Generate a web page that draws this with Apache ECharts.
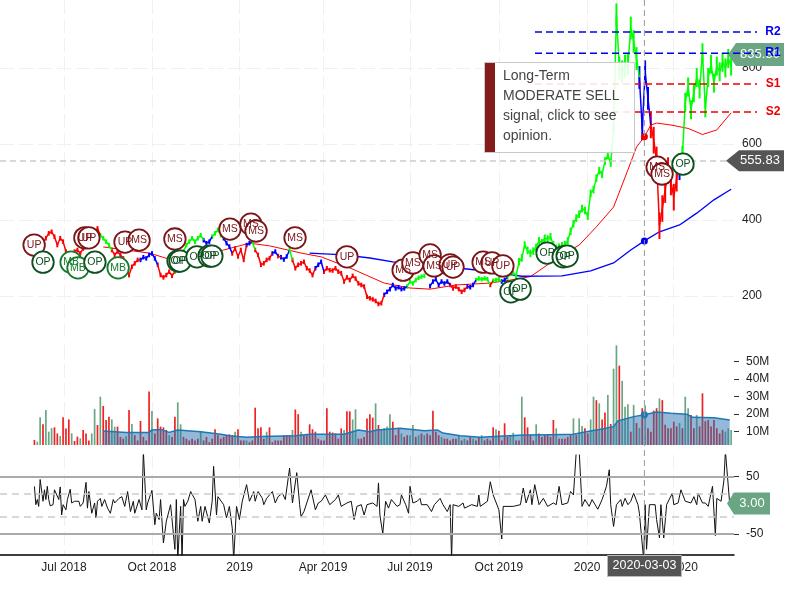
<!DOCTYPE html>
<html><head><meta charset="utf-8">
<style>html,body{margin:0;padding:0;background:#fff}#c{width:800px;height:600px}</style>
<script src="https://cdn.jsdelivr.net/npm/echarts@6/dist/echarts.min.js"></script>
</head><body><div id="c"></div>
<script>
const tickSessions=[44.6,106,167.2,225.3,286,348,409.5,469.8];
const tickLabels=['Jul 2018','Oct 2018','2019','Apr 2019','Jul 2019','Oct 2019','2020','Apr 2020'];
const firstSession=24, stepSessions=2;
const price=[
328,335,338,340,352,365,369,356,
334,352,343,317,312,308,317,321,312,325,
339,347,352,365,378,360,352,343,334,321,
308,317,308,299,273,255,277,286,295,295,
302,299,308,312,299,282,255,249,255,264,
253,264,277,299,317,334,343,352,343,352,
360,347,339,343,356,365,374,360,352,339,
330,312,325,304,321,295,334,339,343,321,
308,282,286,295,299,312,317,305,302,296,
304,321,295,273,282,286,290,273,267,255,
273,282,290,264,273,268,267,273,264,260,
238,249,242,253,246,233,229,225,198,194,
191,187,179,181,203,211,218,229,220,223,
218,220,225,238,233,242,248,251,253,null,
226,238,244,229,238,233,238,229,220,225,
218,211,216,225,223,229,242,246,244,246,
244,229,240,242,244,238,242,249,258,261,
253,290,300,334,320,312,318,328,345,340,
352,350,356,335,325,328,332,335,345,370,
390,405,415,430,425,410,470,480,510,530,
520,555,570,550,640,940,800,790,805,810,
905,870,825,775,640,790,720,650,610,558,
385,430,480,530,500,460,510,540,570,710,
750,690,735,775,745,840,695,775,810,760,
805,790,815,800,825,805];
// half of the day's high-low span: [first list index, last list index, span]
const priceSwing=[[0,168,6],[169,202,10],[203,214,30],[215,225,35],[226,243,25]];
// regime: [index of first point in price list, last index, kind]
const regimes=[[0,22,'r'],[23,26,'g'],[27,36,'r'],[37,42,'b'],[43,48,'r'],[49,58,'g'],[59,61,'b'],[62,65,'g'],[66,68,'b'],[69,73,'r'],[74,75,'b'],[76,76,'g'],[77,82,'r'],[83,84,'b'],[85,85,'r'],[86,88,'b'],[89,89,'g'],[90,97,'r'],[98,100,'b'],[101,121,'r'],[122,129,'b'],[130,136,'g'],[138,144,'b'],[145,150,'r'],[151,153,'b'],[154,158,'g'],[159,159,'r'],[160,162,'g'],[163,164,'b'],[165,210,'g'],[211,214,'b'],[215,224,'r'],[225,225,'b'],[226,243,'g']];
const regimeColors={r:'#ff0000',g:'#00ff00',b:'#0000ff'};
const maFast=[[72,329],[104,313],[118,297],[130,300],[156,321],[174,339],[188,332],[210,313],[224,303],[244,274],[268,234],[286,221],[300,218],[318,229],[342,234],[356,242],[370,251],[390,303],[404,334],[416,382],[428,434],[438,532],[444,592],[449.5,619],[454,650],[458,655],[468,650],[480,641],[490,625],[500,637],[510,682]];
const maSlow=[[216,313],[240,308],[258,300],[274,290],[292,280],[326,271],[346,262],[364,252],[392,253],[412,266],[428,287],[440,321],[449.5,345],[460,369],[474,387],[486,418],[498,453],[510,481]];
const volumeSigned=[
5.3,-4.3,-18.2,14.2,-22.4,-10,-12,12.5,
9,-7.5,18.2,11.8,17,-9.1,4.7,7.2,-6.2,11,
9,5,-9,-23,13.8,-30,24.7,16.7,18.6,-17,
-12.9,12.9,7,6,-7.5,22.4,-14.4,8,5,16.1,
7,5,32.9,-21.8,9,17.6,12.9,12.5,11,-8,
7,18.6,-26.8,-14.2,7,6,5,6,5,6,
-10,5,7,4,6,11.4,8,6,7,8,
8.5,8,-10,11.4,5,5,-5,4,5,23.7,
12,12.5,6,-10,12.5,4,5,5,5,8,
8,8,-11,22.7,20,-10,8,8,14.2,11.4,
10,6,5,5,23.4,10,9.5,9,6,11.9,
-11,21.6,21.6,-17,-22.8,6,6,7,17.6,20,
18,-26.2,13.8,-11.5,-12,-13,-20,15.7,8,12,
-9,7,8,-8,-13.8,7,-8,9,-8,9,
8,22,10,8,-7,6,6,5,6,6,
-8,5,-6,5,7,-6,5,7,-8,5,
6,5,12.5,-11.4,10.5,5,14.8,7,-8,-9.4,
5,5,-30,18.2,12.5,8,5,-14.2,9,7,
8,8,7,16.7,-11.9,6,6,6,7,8,
-17.6,8,-17.6,-13.3,12,9,-17,-30,28,-26.2,
17,20.9,-31,14.4,-46,-59.3,47.7,-39,-24.3,-25.6,
10,-25.3,15,-12,23.4,-24.9,12,10,22,23.4,
-29,28,14,12,12,15.7,13,-15,12,-30,
-23.4,19.5,12,-19.5,13,31.9,16,16.7,13,16.7,
12,9,11,-10,-11.9,-11];
const volumeAvg=[[72,10.4],[88,9.6],[104,9.6],[106,11],[112,11.3],[118,9.6],[124,11],[140,10],[154,8.5],[160,7.7],[172,6.8],[182,7.2],[206,7.7],[216,8.5],[240,8.5],[246,10],[250,11],[258,10],[263,11],[279,11.9],[296,10.6],[305,11],[309,9.2],[321,7.7],[335,6.8],[365,8.1],[384,8.3],[400,8.5],[409,10],[418,11.3],[428,12.9],[431,16.1],[442,18.6],[449.5,19.7],[458,21.2],[468,20.5],[479,20],[483,18.2],[498,18],[509,16.7]];
const cci=[[24,33],[25,1],[26,10],[27,-2],[28,45],[30,7],[31,27],[32,10],[33,33],[34,10],[35,-1],[37,1],[38,27],[41,10],[42,32],[43,-17],[44,1],[46,-8],[47,10],[49,28],[50,4],[52,7],[55,7],[56,-2],[58,4],[60,40],[61,-5],[62,24],[64,-14],[66,4],[67,-22],[68,7],[70,12],[71,-2],[73,10],[75,-5],[77,-14],[79,10],[80,4],[83,12],[85,15],[87,-2],[89,24],[91,-11],[93,7],[94,-14],[97,10],[99,-8],[100,95],[102,-8],[103,4],[106,26],[108,-34],[109,-14],[111,-25],[112,10],[114,-66],[116,-28],[117,-25],[119,1],[122,-77],[123,10],[124,-95],[126,-2],[127,-95],[128,10],[129,-2],[131,7],[133,24],[136,10],[138,-28],[140,-2],[141,-28],[143,-2],[146,-31],[148,7],[149,68],[151,-17],[152,15],[156,1],[158,-22],[160,-2],[162,-40],[163,-95],[164,-95],[165,-2],[166,-2],[167,-25],[169,7],[172,36],[174,7],[177,24],[178,7],[180,24],[183,12],[184,1],[186,12],[190,24],[192,4],[194,15],[197,21],[199,10],[202,65],[204,4],[207,57],[209,1],[210,-20],[212,-11],[214,4],[217,27],[220,-8],[222,4],[224,7],[227,18],[230,1],[234,10],[236,18],[238,-2],[242,4],[245,7],[247,-25],[249,-2],[252,1],[254,-17],[256,1],[260,4],[263,-2],[264,39],[265,-17],[267,-50],[269,7],[271,-5],[273,10],[277,-2],[279,1],[280,18],[283,1],[285,-14],[286,33],[288,4],[291,7],[293,12],[294,1],[298,1],[301,-11],[303,1],[307,12],[309,1],[312,-11],[314,1],[315,-95],[316,1],[320,-2],[323,4],[324,-5],[329,1],[333,-2],[334,18],[335,-2],[340,7],[342,41],[344,18],[348,-8],[350,-59],[351,-2],[358,-2],[363,1],[365,30],[367,4],[370,27],[371,1],[373,36],[376,1],[379,12],[382,-2],[386,4],[388,1],[390,33],[392,1],[396,4],[398,24],[400,18],[402,95],[404,95],[406,-2],[408,10],[411,-2],[413,10],[417,-7],[420,10],[423,33],[425,62],[426,1],[428,-37],[430,1],[433,10],[434,-2],[436,12],[438,1],[440,7],[442,21],[445,1],[446,-14],[449,-95],[450,1],[451,-77],[453,1],[457,1],[458,-25],[460,-57],[461,1],[463,-57],[465,1],[469,21],[470,1],[473,4],[475,27],[478,7],[482,4],[484,15],[486,1],[487,21],[490,4],[492,4],[494,-2],[497,33],[499,-53],[500,12],[503,7],[505,44],[506,95],[507,95],[509,3]];
const signals=[[23.8,334,'UP'],[30,289,'OP'],[49.6,289,'MB'],[54.4,274,'MB'],[59.2,353,'UP'],[62,353,'UP'],[66.2,289,'OP'],[87.2,342,'UP'],[97,347,'MS'],[82.4,274,'MB'],[122,350,'MS'],[124.2,292,'OP'],[125.6,292,'OP'],[137.4,303,'OP'],[145.8,305,'OP'],[147.8,305,'OP'],[160.4,376,'MS'],[175,389,'MS'],[178.6,371,'MS'],[205.8,353,'MS'],[242,303,'UP'],[281.2,268,'MS'],[288,287,'MS'],[300,308,'MS'],[302.8,279,'MS'],[314,282,'UP'],[316,276,'UP'],[337,289,'MS'],[343.2,287,'UP'],[350.8,279,'UP'],[356.4,211,'OP'],[362.8,218,'OP'],[381.6,313,'OP'],[392.8,303,'OP'],[395.6,305,'OP'],[458.4,539,'MS'],[461.8,521,'MS'],[476.4,547,'OP']];
const signalColors={UP:'#7b1416',MS:'#7b1416',OP:'#0d4f1e',MB:'#157a2c'};
const pivotNames=['R2','R1','S1','S2'];
const pivotLevels=[895,839,758,684];
const lastClose=555.83, lastBreak=835.8, lastCci=3.00, crossSession=449.5, crossDate='2020-03-03';
const crossFast=619, crossSlow=345, crossVolume=19.7;
const priceTicks=[200,400,600,800], volumeTicks=[10,20,30,40,50], cciTicks=[50,-50];
const cciSolid=[50,-50], cciDashed=[20,-20];
const noteLines=['Long-Term','MODERATE SELL','signal, click to see','opinion.'];

const FONT='"Liberation Sans",Arial,sans-serif';
const vSplit={show:true,lineStyle:{color:'#f0f0f0',width:1,type:[14,5]}};
function xAx(i,withLabels){return {type:'value',gridIndex:i,min:0,max:512,position:'bottom',
  axisLine:{show:withLabels,onZero:false,lineStyle:{color:'#000',width:1.5}},
  axisTick:{show:false,customValues:tickSessions},
  axisLabel:{show:withLabels,customValues:tickSessions,hideOverlap:false,margin:6,padding:[1,0,0,0],fontSize:12,color:'#222',fontFamily:FONT,
    formatter:v=>tickLabels[tickSessions.indexOf(v)]||''},
  splitLine:vSplit};}
const sessions=price.map((_,i)=>firstSession+i*stepSessions);
function swingAt(i){const b=priceSwing.find(s=>i>=s[0]&&i<=s[1]);return b?b[2]:0;}
const series=[];
regimes.forEach(([a,b,k])=>{
  const d=[], hl=[];
  for(let i=a;i<=b+1&&i<price.length;i++){ if(price[i]!=null) d.push([sessions[i],price[i]]); }
  for(let i=a;i<=b;i++){ if(price[i]!=null) hl.push([sessions[i],price[i]-swingAt(i),price[i]+swingAt(i)]); }
  series.push({type:'line',xAxisIndex:0,yAxisIndex:0,data:d,symbol:'none',z:3,lineStyle:{color:regimeColors[k],width:1.5},silent:true});
  series.push({type:'custom',xAxisIndex:0,yAxisIndex:0,data:hl,z:3,silent:true,clip:true,
    encode:{x:0,y:[1,2]},
    renderItem:(p,api)=>{const a1=api.coord([api.value(0),api.value(1)]),a2=api.coord([api.value(0),api.value(2)]);
      return {type:'line',shape:{x1:a1[0],y1:a1[1],x2:a2[0],y2:a2[1]},style:{stroke:regimeColors[k],lineWidth:2}};}});
});
series.push({type:'line',xAxisIndex:0,yAxisIndex:0,data:maFast,symbol:'none',z:2,lineStyle:{color:'#ff0000',width:1}});
series.push({type:'line',xAxisIndex:0,yAxisIndex:0,data:maSlow,symbol:'none',z:2,lineStyle:{color:'#0000ff',width:1.3}});
series.push({type:'scatter',xAxisIndex:0,yAxisIndex:0,symbolSize:7,z:4,data:[{value:[crossSession,crossFast],itemStyle:{color:'#ee0000',opacity:1}},{value:[crossSession,crossSlow],itemStyle:{color:'#0000ee',opacity:1}}]});
series.push({type:'line',xAxisIndex:0,yAxisIndex:0,data:[],symbol:'none',
  markLine:{silent:true,symbol:'none',label:{show:false},lineStyle:{color:'#cccccc',width:1.5,type:[6,4]},data:[{yAxis:lastClose}]}});
series.push({type:'scatter',xAxisIndex:0,yAxisIndex:0,z:5,symbol:'circle',symbolSize:21.5,silent:true,
  data:signals.map(s=>({value:[s[0],s[1]],name:s[2],
    itemStyle:{color:'#fff',borderColor:signalColors[s[2]],borderWidth:1.8,opacity:1},
    label:{show:true,position:'inside',formatter:s[2],fontSize:10.5,color:signalColors[s[2]],fontFamily:FONT}}))});
series.push({type:'bar',xAxisIndex:1,yAxisIndex:1,barWidth:1.7,barGap:'-100%',z:2,itemStyle:{color:'#ee2222'},
  data:volumeSigned.map((v,i)=>[sessions[i],v>0?v:null])});
series.push({type:'bar',xAxisIndex:1,yAxisIndex:1,barWidth:1.7,barGap:'-100%',z:2,itemStyle:{color:'#6aa584'},
  data:volumeSigned.map((v,i)=>[sessions[i],v<0?-v:null])});
series.push({type:'line',xAxisIndex:1,yAxisIndex:1,data:volumeAvg,symbol:'none',z:3,
  lineStyle:{color:'#1f77b4',width:1.5},areaStyle:{color:'#2a72b0',opacity:.5,origin:'start'}});
series.push({type:'scatter',xAxisIndex:1,yAxisIndex:1,symbolSize:7,z:4,itemStyle:{color:'#1f77b4',opacity:1},data:[[crossSession,crossVolume]]});
series.push({type:'line',xAxisIndex:2,yAxisIndex:2,data:cci,symbol:'none',z:3,lineStyle:{color:'#111',width:1},
  markLine:{silent:true,symbol:'none',label:{show:false},animation:false,
    data:cciSolid.map(v=>({yAxis:v,lineStyle:{color:'#aaaaaa',width:2,type:'solid'}})).concat(cciDashed.map(v=>({yAxis:v,lineStyle:{color:'#cccccc',width:1.5,type:[7,5]}})))}});

const chart=echarts.init(document.getElementById('c'),null,{renderer:'canvas'});
const yLabel={margin:8,padding:[5,0,0,0],fontSize:12,color:'#222',fontFamily:FONT};
chart.setOption({
  animation:false,
  textStyle:{fontFamily:FONT},
  grid:[{left:0,width:734,top:0,height:340},{left:0,width:734,top:345,height:100},{left:0,width:734,top:455,height:100}],
  xAxis:[xAx(0,false),xAx(1,false),xAx(2,true)],
  yAxis:[
   {type:'value',gridIndex:0,position:'right',min:84.2,max:978.9,axisLine:{show:false,onZero:false},
    axisTick:{show:false,customValues:priceTicks},
    axisLabel:Object.assign({customValues:priceTicks},yLabel),
    splitLine:{show:true,lineStyle:{color:'#f0f0f0',width:1,type:[14,5]}}},
   {type:'value',gridIndex:1,position:'right',min:2.4,max:59.5,axisLine:{show:false,onZero:false},
    axisTick:{show:true,length:5,customValues:volumeTicks,lineStyle:{color:'#333'}},
    axisLabel:Object.assign({customValues:volumeTicks,formatter:v=>v+'M'},yLabel,{margin:12}),
    splitLine:{show:false}},
   {type:'value',gridIndex:2,position:'right',min:-86.9,max:87.8,axisLine:{show:false,onZero:false},
    axisTick:{show:true,length:5,customValues:cciTicks,lineStyle:{color:'#333'}},
    axisLabel:Object.assign({customValues:cciTicks},yLabel,{margin:12}),
    splitLine:{show:false}}
  ],
  series
});

const yP=v=>chart.convertToPixel({yAxisIndex:0},v);
const yC=v=>chart.convertToPixel({yAxisIndex:2},v);
const crossX=chart.convertToPixel({xAxisIndex:0},crossSession);
const G=[];
function tag(y,tip,left,right,h,color,txt,tx){
  const h2=h/2;
  G.push({type:'polygon',z:50,shape:{points:[[tip,y],[left,y-h2],[right,y-h2],[right,y+h2],[left,y+h2]]},style:{fill:color}});
  G.push({type:'text',z:51,x:tx,y:y,style:{text:txt,fill:'#fff',font:'13px '+FONT,align:'center',verticalAlign:'middle'}});
}
G.push({type:'line',z:40,shape:{x1:crossX,y1:0,x2:crossX,y2:555},style:{stroke:'#999',lineWidth:1,lineDash:[6,4]}});
tag(yP(lastBreak),728,736,784,23,'#6aa584',lastBreak.toFixed(2),760);
tag(yP(lastClose),726,739,784,21,'#555555',lastClose.toFixed(2),760);
tag(yC(lastCci),727,734,770,22,'#6aa584',lastCci.toFixed(2),752);
pivotNames.forEach((n,i)=>{
  const y=yP(pivotLevels[i]), c=n[0]==='R'?'#0000ee':'#ee0000';
  G.push({type:'line',z:60,shape:{x1:535,y1:y,x2:757,y2:y},style:{stroke:c,lineWidth:1.5,lineDash:[7,4]}});
  G.push({type:'text',z:61,x:773,y:y,style:{text:n,fill:c,font:'bold 12px '+FONT,align:'center',verticalAlign:'middle'}});
});
G.push({type:'rect',z:70,shape:{x:484.5,y:62.5,width:150,height:90},style:{fill:'rgba(255,255,255,0.88)',stroke:'#c8c8c8',lineWidth:1}});
G.push({type:'rect',z:71,shape:{x:485,y:63,width:10,height:89},style:{fill:'#851b1b'}});
noteLines.forEach((t,i)=>G.push({type:'text',z:72,x:503,y:76.5+i*20,style:{text:t,fill:'#444',font:'14px '+FONT,align:'left',verticalAlign:'middle'}}));
G.push({type:'rect',z:80,shape:{x:607.5,y:555.5,width:74,height:21},style:{fill:'#555555',stroke:'#bbbbbb',lineWidth:1}});
G.push({type:'text',z:81,x:644.5,y:566,style:{text:crossDate,fill:'#fff',font:'12.5px '+FONT,align:'center',verticalAlign:'middle'}});
chart.setOption({graphic:{elements:G}});
</script></body></html>
